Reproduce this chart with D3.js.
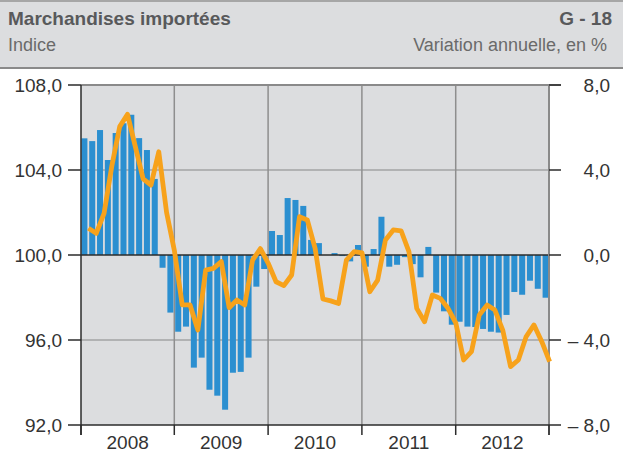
<!DOCTYPE html>
<html>
<head>
<meta charset="utf-8">
<script src="https://cdn.jsdelivr.net/npm/d3@7"></script>
<style>
  body { margin: 0; background: #fff; }
  svg text { font-family: "Liberation Sans", Arial, sans-serif; }
</style>
</head>
<body>
<svg width="623" height="452"></svg>
<script>
// years shown on the x axis
var years = ["2008", "2009", "2010", "2011", "2012"]

// annual variation in % (bars, right axis), one value per month
var variation = [
	5.49, 5.36, 5.88, 4.47, 5.74, 6.2, 6.6, 5.5, 4.94, 3.58, -0.6, -2.71,
	-3.61, -3.37, -5.3, -4.83, -6.34, -6.62, -7.28, -5.54, -5.5, -4.83, -1.49, -0.66,
	1.13, 0.94, 2.68, 2.59, 2.31, 0.71, 0.56, 0.0, 0.09, -0.05, -0.3, 0.47,
	-0.55, 0.28, 1.8, -0.55, -0.46, -0.1, -0.43, -1.05, 0.38, -1.77, -2.65, -3.28,
	-3.14, -3.37, -3.39, -3.48, -3.61, -3.65, -2.82, -1.74, -1.87, -1.21, -1.59, -2.01
]

// index (line, left axis), one value per month
var indice = [
	101.26, 101.02, 101.96, 104.2, 106.04, 106.62, 105.1, 103.58, 103.29, 104.86, 102.0, 100.2,
	97.65, 97.65, 96.47, 99.29, 99.37, 99.69, 97.52, 97.88, 97.65, 99.76, 100.3, 99.61,
	98.74, 98.56, 99.06, 101.8, 101.65, 100.31, 97.93, 97.84, 97.72, 99.76, 100.16, 100.1,
	98.27, 98.82, 100.71, 101.18, 101.14, 100.16, 97.49, 96.86, 98.12, 97.96, 97.49, 96.8,
	95.06, 95.45, 97.18, 97.65, 97.41, 96.47, 94.75, 95.06, 96.16, 96.71, 95.92, 94.98
]

var leftTicks = [92, 96, 100, 104, 108]
var rightTicks = [-8, -4, 0, 4, 8]

var months = variation.map((v, i) => i)

var svg = d3.select("svg")
var fr = d3.format(".1f")
var fmtComma = v => fr(Math.abs(v)).replace(".", ",")

// header
svg.append("rect").attr("x", 0).attr("y", 0).attr("width", 623).attr("height", 68).style("fill", "#dcdddf")
svg.append("line").attr("x1", 0).attr("x2", 623).attr("y1", 1).attr("y2", 1).style("stroke", "#a6a6a6").style("stroke-width", 2)
svg.append("line").attr("x1", 0).attr("x2", 623).attr("y1", 68).attr("y2", 68).style("stroke", "#8a8a8a").style("stroke-width", 2)
svg.append("text").attr("x", 8).attr("y", 25).text("Marchandises importées")
	.style("font-size", "19px").style("font-weight", "bold").style("fill", "#58595b")
svg.append("text").attr("x", 612).attr("y", 25).attr("text-anchor", "end").text("G - 18")
	.style("font-size", "19px").style("font-weight", "bold").style("fill", "#58595b")
svg.append("text").attr("x", 8).attr("y", 51).text("Indice")
	.style("font-size", "18px").style("fill", "#6a6a6a")
svg.append("text").attr("x", 607).attr("y", 51).attr("text-anchor", "end").text("Variation annuelle, en %")
	.style("font-size", "18px").style("fill", "#6a6a6a")

// scales
var pLeft = 81, pRight = 549, pTop = 85, pBottom = 425
var x = d3.scaleBand().domain(months).range([pLeft, pRight]).paddingInner(0.23).paddingOuter(0.05)
var yL = d3.scaleLinear().domain([92, 108]).range([pBottom, pTop])
var yR = d3.scaleLinear().domain([-8, 8]).range([pBottom, pTop])

var yearEdge = i => i == 0 ? pLeft : (i == years.length ? pRight : x(i * 12) - x.step() * x.paddingInner() / 2)

// plot background
svg.append("rect").attr("x", pLeft).attr("y", pTop).attr("width", pRight - pLeft).attr("height", pBottom - pTop).style("fill", "#dcdddf")

// horizontal grid
svg.selectAll("line.hgrid")
	.data([96, 104])
	.enter()
	.append("line")
	.attr("class", "hgrid")
	.attr("x1", pLeft).attr("x2", pRight)
	.attr("y1", d => yL(d)).attr("y2", d => yL(d))
	.style("stroke", "#a3a3a5").style("stroke-width", 1.5)

// year separators
svg.selectAll("line.vgrid")
	.data(d3.range(1, years.length))
	.enter()
	.append("line")
	.attr("class", "vgrid")
	.attr("x1", d => yearEdge(d)).attr("x2", d => yearEdge(d))
	.attr("y1", pTop).attr("y2", pBottom)
	.style("stroke", "#8e8e8e").style("stroke-width", 1.5)

// bars
svg.selectAll("rect.bar")
	.data(variation)
	.enter()
	.append("rect")
	.attr("class", "bar")
	.attr("x", (d, i) => x(i))
	.attr("width", x.bandwidth())
	.attr("y", d => yR(Math.max(0, d)))
	.attr("height", d => Math.abs(yR(d) - yR(0)))
	.style("fill", "#2b8fd0")

// zero line
svg.append("line").attr("x1", pLeft).attr("x2", pRight).attr("y1", yR(0)).attr("y2", yR(0))
	.style("stroke", "#2b2b2b").style("stroke-width", 1.5)

// top + right border
svg.append("line").attr("x1", pLeft).attr("x2", pRight + 12).attr("y1", pTop).attr("y2", pTop)
	.style("stroke", "#8a8a8a").style("stroke-width", 2)
svg.append("line").attr("x1", pRight).attr("x2", pRight).attr("y1", pTop).attr("y2", pBottom + 10)
	.style("stroke", "#8a8a8a").style("stroke-width", 2)

// line (index)
var line = d3.line()
	.x((d, i) => x(i) + x.step() * 0.9)
	.y(d => yL(d))
	.curve(d3.curveLinear)
svg.append("path")
	.datum(indice)
	.attr("d", line)
	.style("fill", "none")
	.style("stroke", "#f7a21b")
	.style("stroke-width", 4.8)
	.style("stroke-linejoin", "round")

// left axis
svg.append("line").attr("x1", pLeft).attr("x2", pLeft).attr("y1", pTop).attr("y2", pBottom + 10)
	.style("stroke", "#2b2b2b").style("stroke-width", 1.5)
var gl = svg.append("g")
gl.selectAll("line")
	.data(leftTicks)
	.enter()
	.append("line")
	.attr("x1", pLeft - 13).attr("x2", pLeft)
	.attr("y1", d => yL(d)).attr("y2", d => yL(d))
	.style("stroke", "#2b2b2b").style("stroke-width", 1.5)
gl.selectAll("text")
	.data(leftTicks)
	.enter()
	.append("text")
	.attr("x", 62).attr("y", d => yL(d) + 7)
	.attr("text-anchor", "end")
	.style("font-size", "19px").style("fill", "#333")
	.text(d => fmtComma(d))

// right axis
var gr = svg.append("g")
gr.selectAll("line")
	.data(rightTicks)
	.enter()
	.append("line")
	.attr("x1", pRight).attr("x2", pRight + 12)
	.attr("y1", d => yR(d)).attr("y2", d => yR(d))
	.style("stroke", "#2b2b2b").style("stroke-width", 1.5)
gr.selectAll("text")
	.data(rightTicks)
	.enter()
	.append("text")
	.attr("x", 610).attr("y", d => yR(d) + 7)
	.attr("text-anchor", "end")
	.style("font-size", "19px").style("fill", "#333")
	.text(d => (d < 0 ? "\u2013 " : "") + fmtComma(d))

// bottom axis
svg.append("line").attr("x1", pLeft).attr("x2", pRight).attr("y1", pBottom).attr("y2", pBottom)
	.style("stroke", "#2b2b2b").style("stroke-width", 1.5)
svg.selectAll("line.xtick")
	.data(d3.range(0, years.length + 1))
	.enter()
	.append("line")
	.attr("class", "xtick")
	.attr("x1", d => yearEdge(d)).attr("x2", d => yearEdge(d))
	.attr("y1", pBottom).attr("y2", pBottom + 10)
	.style("stroke", "#2b2b2b").style("stroke-width", 1.5)
svg.selectAll("text.year")
	.data(years)
	.enter()
	.append("text")
	.attr("class", "year")
	.attr("x", (d, i) => (yearEdge(i) + yearEdge(i + 1)) / 2)
	.attr("y", 449)
	.attr("text-anchor", "middle")
	.style("font-size", "19px").style("fill", "#333")
	.text(d => d)
</script>
</body>
</html>
